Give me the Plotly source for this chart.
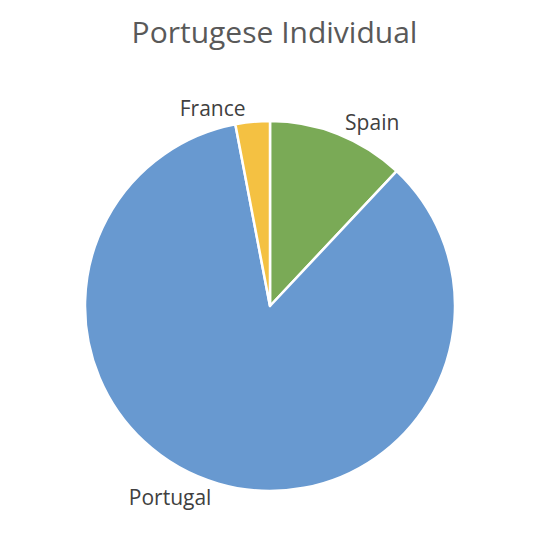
import plotly.graph_objects as go

# slice data, clockwise from 12 o'clock
countries = ["Spain", "Portugal", "France"]
shares = [12, 85, 3]
slice_colors = ["#7AAA56", "#6899D0", "#F4C142"]

fig = go.Figure(go.Pie(
    labels=countries,
    values=shares,
    sort=False,
    direction="clockwise",
    rotation=0,
    marker=dict(colors=slice_colors, line=dict(color="white", width=2.5)),
    textposition="outside",
    texttemplate="%{label}",
    textfont=dict(family="Open Sans", size=21, color="#404040"),
    showlegend=False,
))

fig.update_layout(
    width=533,
    height=539,
    title=dict(text="Portugese Individual", x=0.5, xanchor="center", y=0.955, yanchor="middle",
               font=dict(family="Open Sans", size=30, color="#595959")),
    margin=dict(l=77, r=86, t=113, b=56),
    paper_bgcolor="white",
    plot_bgcolor="white",
)

fig.write_html("out.html")
